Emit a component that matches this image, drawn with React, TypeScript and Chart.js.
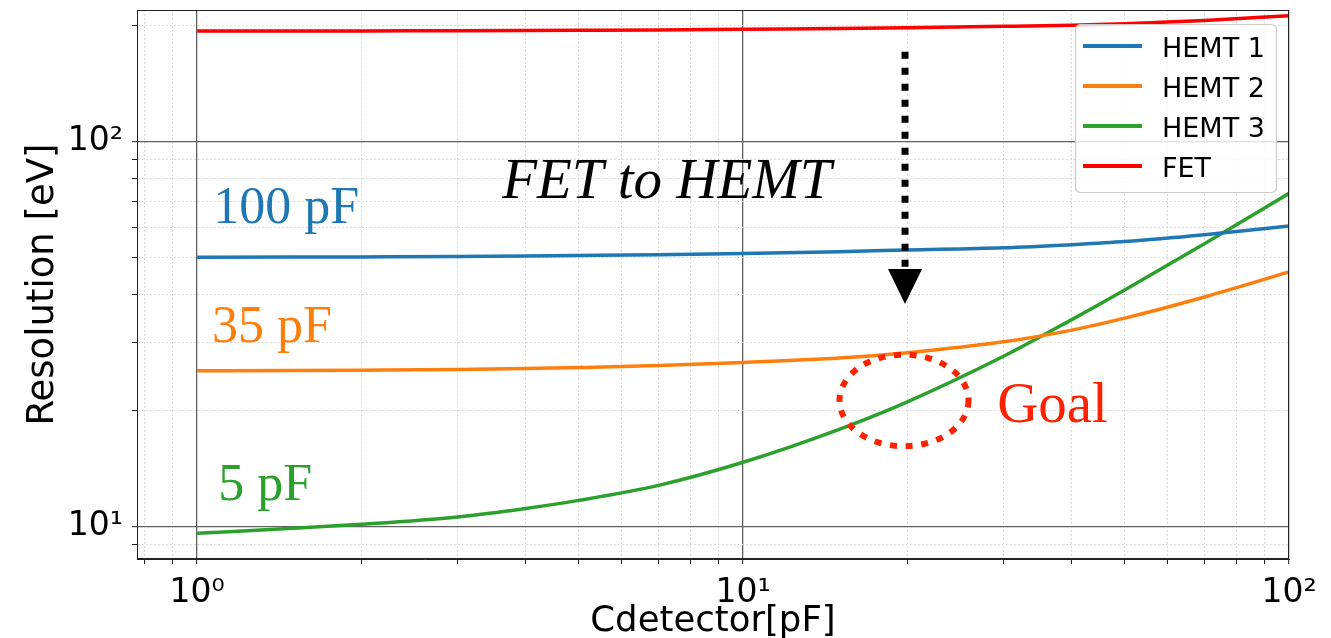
import { useEffect, useRef } from 'react';
import { Chart, registerables } from 'chart.js';

Chart.register(...registerables);

// ---------- data ----------
const capacitance = [1, 1.5, 2, 3, 4, 5, 7, 10, 15, 20, 30, 40, 50, 70, 100];
const hemt1 = [50.1, 50.15, 50.2, 50.3, 50.45, 50.6, 50.85, 51.25, 51.8, 52.3, 53.0, 54.0, 55.0, 57.3, 60.4];
const hemt2 = [25.4, 25.45, 25.5, 25.6, 25.75, 25.9, 26.2, 26.7, 27.4, 28.3, 30.2, 32.4, 34.8, 39.5, 45.9];
const hemt3 = [9.61, 9.9, 10.14, 10.6, 11.15, 11.7, 12.8, 14.7, 17.9, 21.1, 27.7, 34.5, 41.2, 54.3, 73.4];
const fet = [193.9, 193.9, 194.0, 194.2, 194.4, 194.6, 195.0, 195.9, 196.8, 197.7, 199.3, 200.7, 202.4, 206.3, 212.5];

const seriesNames = ['HEMT 1', 'HEMT 2', 'HEMT 3', 'FET'];
const seriesColors = ['#1f77b4', '#ff7f0e', '#2ca02c', '#ff0000'];

const xMajorTicks = [1, 10, 100];
const xMajorLabels = ['10\u2070', '10\u00B9', '10\u00B2'];
const xMinorTicks = [0.8, 0.9, 2, 3, 4, 5, 6, 7, 8, 9, 20, 30, 40, 50, 60, 70, 80, 90];
const yMajorTicks = [10, 100];
const yMajorLabels = ['10\u00B9', '10\u00B2'];
const yMinorTicks = [9, 20, 30, 40, 50, 60, 70, 80, 90, 200];

const xMin = 0.776;
const xMax = 100;
const yMin = 8.24;
const yMax = 219.8;

const xTitle = 'Cdetector[pF]';
const yTitle = 'Resolution [eV]';

// annotation anchors (data units)
const curveLabels = [
  { text: '100 pF', x: 1.07, y: 61.6, color: '#1f77b4' },
  { text: '35 pF', x: 1.065, y: 30.1, color: '#ff7f0e' },
  { text: '5 pF', x: 1.093, y: 11.73, color: '#2ca02c' },
];
const arrowText = 'FET to HEMT';
const arrowTextAnchor = { x: 3.62, y: 71.4 };
const arrowX = 19.8;
const arrowTop = 171.3;
const arrowTip = 37.9;
const goalText = 'Goal';
const goalTextAnchor = { x: 29.2, y: 18.7 };
const goalEllipse = { x0: 15.02, x1: 25.88, y0: 16.18, y1: 27.98 };
const goalColor = '#ff2200';

// ---------- helpers ----------
const isMajor = (v: number) => Math.abs(Math.log10(v) - Math.round(Math.log10(v))) < 1e-9;
const labelFor = (v: number, vals: number[], labels: string[]) => {
  const i = vals.findIndex((t) => Math.abs(t - v) < 1e-9 * Math.max(1, t));
  return i >= 0 ? labels[i] : '';
};

const annotationPlugin = {
  id: 'annotations',
  afterDatasetsDraw(chart: any) {
    const { ctx, scales } = chart;
    const x = scales.x;
    const y = scales.y;
    ctx.save();

    ctx.textBaseline = 'alphabetic';
    ctx.textAlign = 'left';
    ctx.font = "52px 'Liberation Serif', serif";
    for (const l of curveLabels) {
      ctx.fillStyle = l.color;
      ctx.fillText(l.text, x.getPixelForValue(l.x), y.getPixelForValue(l.y));
    }

    ctx.fillStyle = '#000';
    ctx.font = "italic 57px 'Liberation Serif', serif";
    ctx.fillText(arrowText, x.getPixelForValue(arrowTextAnchor.x), y.getPixelForValue(arrowTextAnchor.y));

    ctx.fillStyle = goalColor;
    ctx.font = "57px 'Liberation Serif', serif";
    ctx.fillText(goalText, x.getPixelForValue(goalTextAnchor.x), y.getPixelForValue(goalTextAnchor.y));

    // dotted arrow
    const ax = x.getPixelForValue(arrowX);
    const aTop = y.getPixelForValue(arrowTop);
    const aTip = y.getPixelForValue(arrowTip);
    const headH = 35;
    const headW = 17;
    ctx.strokeStyle = '#000';
    ctx.lineWidth = 7;
    ctx.lineCap = 'butt';
    ctx.setLineDash([7, 9]);
    ctx.beginPath();
    ctx.moveTo(ax, aTop);
    ctx.lineTo(ax, aTip - headH - 2);
    ctx.stroke();
    ctx.setLineDash([]);
    ctx.fillStyle = '#000';
    ctx.beginPath();
    ctx.moveTo(ax - headW, aTip - headH);
    ctx.lineTo(ax + headW, aTip - headH);
    ctx.lineTo(ax, aTip);
    ctx.closePath();
    ctx.fill();

    // goal ellipse
    const ex0 = x.getPixelForValue(goalEllipse.x0);
    const ex1 = x.getPixelForValue(goalEllipse.x1);
    const ey0 = y.getPixelForValue(goalEllipse.y0);
    const ey1 = y.getPixelForValue(goalEllipse.y1);
    ctx.strokeStyle = goalColor;
    ctx.lineWidth = 6;
    ctx.setLineDash([7, 8.7]);
    ctx.beginPath();
    ctx.ellipse((ex0 + ex1) / 2, (ey0 + ey1) / 2, Math.abs(ex1 - ex0) / 2, Math.abs(ey1 - ey0) / 2, 0, 0, Math.PI * 2);
    ctx.stroke();
    ctx.setLineDash([]);
    ctx.restore();
  },
  afterDraw(chart: any) {
    const { ctx, chartArea } = chart;
    ctx.save();
    ctx.strokeStyle = '#222';
    ctx.lineWidth = 1;
    ctx.strokeRect(Math.round(chartArea.left) + 0.5, Math.round(chartArea.top) + 0.5,
      Math.round(chartArea.right - chartArea.left) - 1, Math.round(chartArea.bottom - chartArea.top) - 1);

    // legend
    const bw = 201;
    const bh = 168;
    const bx = chartArea.right - 13 - bw;
    const by = chartArea.top + 14;
    ctx.fillStyle = 'rgba(255,255,255,0.8)';
    ctx.strokeStyle = '#cccccc';
    ctx.lineWidth = 1.2;
    ctx.beginPath();
    ctx.roundRect(bx + 0.5, by + 0.5, bw, bh, 5);
    ctx.fill();
    ctx.stroke();
    ctx.font = "27px 'DejaVu Sans', sans-serif";
    ctx.textBaseline = 'alphabetic';
    ctx.textAlign = 'left';
    chart.data.datasets.forEach((ds: any, i: number) => {
      const ry = by + 22 + 40 * i;
      ctx.strokeStyle = ds.borderColor;
      ctx.lineWidth = 4;
      ctx.beginPath();
      ctx.moveTo(bx + 8, ry);
      ctx.lineTo(bx + 67, ry);
      ctx.stroke();
      ctx.fillStyle = '#000';
      ctx.fillText(ds.label, bx + 87, ry + 10.5);
    });
    ctx.restore();
  },
};

const gridCfg = {
  drawOnChartArea: true,
  drawTicks: true,
  tickLength: 5,
  color: (c: any) => (c.tick && isMajor(c.tick.value) ? '#606060' : '#cfcfcf'),
  lineWidth: (c: any) => (c.tick && isMajor(c.tick.value) ? 1.3 : 1),
  tickColor: '#222',
  tickWidth: 1,
};
const borderCfg = {
  display: true,
  color: '#222',
  width: 1,
  dash: (c: any) => (c.tick && isMajor(c.tick.value) ? [] : [1.5, 2.5]),
};

export default function App() {
  const ref = useRef<HTMLCanvasElement | null>(null);
  useEffect(() => {
    if (!ref.current) return;
    const series = [hemt1, hemt2, hemt3, fet];
    const chart = new Chart(ref.current, {
      type: 'line',
      data: {
        datasets: series.map((s, i) => ({
          label: seriesNames[i],
          data: capacitance.map((c, j) => ({ x: c, y: s[j] })),
          borderColor: seriesColors[i],
          backgroundColor: seriesColors[i],
          borderWidth: 3.5,
          pointRadius: 0,
          fill: false,
          cubicInterpolationMode: 'monotone' as const,
        })),
      },
      options: {
        responsive: false,
        devicePixelRatio: 1,
        animation: false,
        layout: { padding: { top: 10, right: 42, bottom: 0, left: 0 } },
        plugins: { legend: { display: false }, tooltip: { enabled: false } },
        scales: {
          x: {
            type: 'logarithmic',
            min: xMin,
            max: xMax,
            afterBuildTicks: (s: any) => {
              s.ticks = [...xMajorTicks, ...xMinorTicks].sort((a, b) => a - b).map((v) => ({ value: v, major: isMajor(v) }));
            },
            afterFit: (s: any) => { s.height = 79; s.paddingLeft = 0; s.paddingRight = 0; },
            ticks: {
              autoSkip: false,
              maxRotation: 0,
              minRotation: 0,
              padding: 10,
              color: '#000',
              font: { family: "'DejaVu Sans', sans-serif", size: 33 },
              callback: (v: any) => labelFor(Number(v), xMajorTicks, xMajorLabels),
            },
            grid: gridCfg,
            border: borderCfg,
            title: {
              display: true,
              text: xTitle,
              color: '#000',
              font: { family: "'DejaVu Sans', sans-serif", size: 35.5, lineHeight: 0.9 },
              padding: { top: 0, bottom: 0 },
            },
          },
          y: {
            type: 'logarithmic',
            min: yMin,
            max: yMax,
            afterBuildTicks: (s: any) => {
              s.ticks = [...yMajorTicks, ...yMinorTicks].sort((a, b) => a - b).map((v) => ({ value: v, major: isMajor(v) }));
            },
            afterFit: (s: any) => { s.width = 137; s.paddingTop = 0; s.paddingBottom = 0; },
            ticks: {
              autoSkip: false,
              padding: 9,
              color: '#000',
              font: { family: "'DejaVu Sans', sans-serif", size: 33 },
              callback: (v: any) => labelFor(Number(v), yMajorTicks, yMajorLabels),
            },
            grid: gridCfg,
            border: borderCfg,
            title: {
              display: true,
              text: yTitle,
              color: '#000',
              font: { family: "'DejaVu Sans', sans-serif", size: 37, lineHeight: 1.2 },
              padding: { top: 21, bottom: 0 },
            },
          },
        },
      },
      plugins: [annotationPlugin],
    } as any);
    return () => chart.destroy();
  }, []);
  return (
    <div style={{ position: 'fixed', left: 0, top: 0, width: 1331, height: 638, background: '#fff' }}>
      <canvas ref={ref} width={1331} height={638} style={{ display: 'block' }} />
    </div>
  );
}
